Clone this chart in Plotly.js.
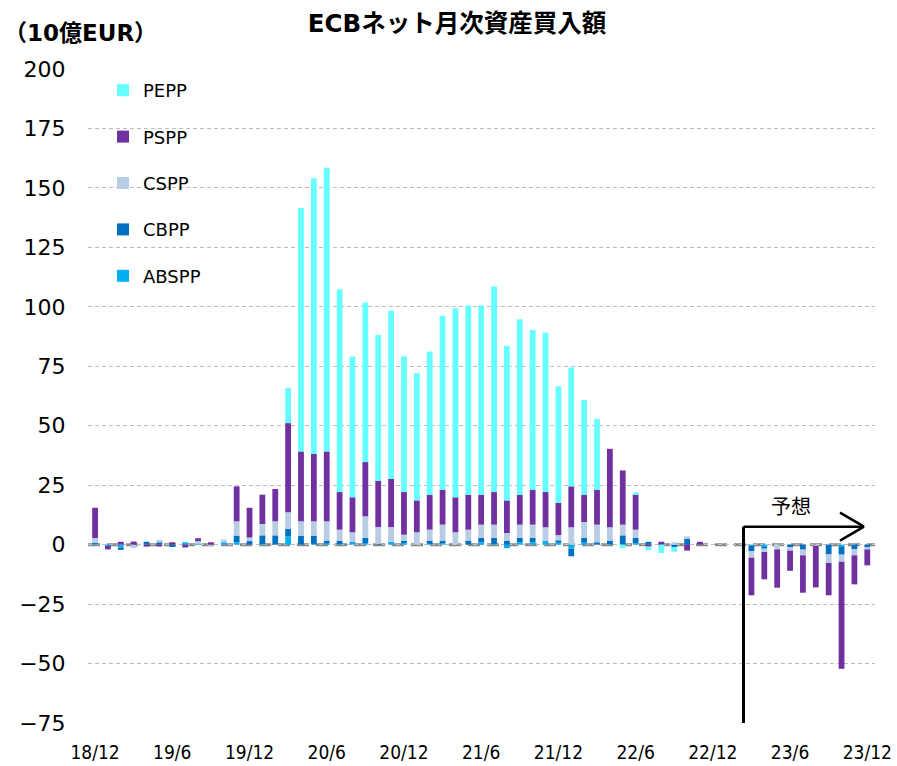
<!DOCTYPE html>
<html>
<head>
<meta charset="utf-8">
<script src="https://cdn.plot.ly/plotly-3.0.1.min.js"></script>
<style>html,body{margin:0;padding:0;background:#fff;}#chart{width:897px;height:766px;}</style>
</head>
<body>
<div id="chart"></div>
<script>
// Months (YY/M)
const months = [
 '18/12',
 '19/1','19/2','19/3','19/4','19/5','19/6','19/7','19/8','19/9','19/10','19/11','19/12',
 '20/1','20/2','20/3','20/4','20/5','20/6','20/7','20/8','20/9','20/10','20/11','20/12',
 '21/1','21/2','21/3','21/4','21/5','21/6','21/7','21/8','21/9','21/10','21/11','21/12',
 '22/1','22/2','22/3','22/4','22/5','22/6','22/7','22/8','22/9','22/10','22/11','22/12',
 '23/1','23/2','23/3','23/4','23/5','23/6','23/7','23/8','23/9','23/10','23/11','23/12'
];
const tickLabels = ['18/12','19/6','19/12','20/6','20/12','21/6','21/12','22/6','22/12','23/6','23/12'];

// Net monthly purchases, EUR bn
const ABSPP = [0.3,
 -0.5,-1.2,0,0,0,0,1.0,0.5,0,1.0,1.0,0,
 0.3,0,3.5,0,0.3,0.5,0.2,0.8,0.6,0,1.2,0.6,
 0,0.3,0.5,0,0,1.0,0.3,-1.5,1.0,1.0,1.2,0.8,
 -1.7,0.8,0,0.2,0,0.7,0,0,0,0,0,0,
 0,0,-0.3,-1.0,0,0,0,0,0,-0.7,0,0];
const CBPP = [0.5,
 0,-1.0,0,1.2,1.0,-1.0,0,0,0,0,2.8,1.5,
 3.6,3.9,3.1,3.8,3.5,1.2,1.5,0.3,2.2,0.3,0,1.1,
 0,1.4,1.2,0,1.7,1.8,2.5,1.7,1.8,1.8,0.3,1.0,
 -3.2,2.0,1.0,1.5,3.9,2.1,1.2,0,-1.0,2.5,0,0,
 0,0,-2.5,-0.7,0,-1.0,-2.1,0,-4.1,-3.5,-2.0,-1.0];
const CSPP = [2.0,
 0,0,-1.5,0,1.0,0,0,1.0,-0.5,1.2,6.0,1.5,
 4.8,5.9,7.0,6.0,6.0,8.1,4.6,4.1,9.1,7.1,6.2,2.5,
 5.2,4.6,6.7,5.2,4.6,5.6,5.6,3.2,5.6,5.6,5.8,2.2,
 7.3,6.7,7.4,5.6,4.5,3.5,0,0,1.0,1.0,0,0,
 0,0,-2.7,-1.4,-2.0,-1.5,-2.4,-0.5,-3.6,-3.0,-2.5,-1.0];
const PSPP = [12.7,
 -1.5,1.2,1.3,-0.8,-0.8,1.0,-1.2,1.2,1.0,0,14.7,12.5,
 12.3,13.6,37.5,29.4,28.3,29.4,15.8,14.7,22.8,19.5,20.3,17.9,
 13.4,14.7,14.7,14.7,14.7,12.6,13.7,13.7,12.6,14.7,14.8,13.6,
 17.2,11.5,14.7,33.0,22.8,14.7,-0.8,1.2,0,-2.5,1.2,0,
 0,0,-15.8,-11.5,-16.1,-8.5,-15.7,-17.5,-13.6,-45.0,-12.2,-6.7];
const PEPP = [0,
 0,0,0,0,0,0,0,0,0,0,0,0,
 0,0,14.7,102.3,116.0,119.3,85.3,59.2,67.1,61.3,70.6,57.0,
 53.5,60.2,73.1,79.5,79.6,79.6,86.4,65.0,73.8,67.2,67.1,49.0,
 50.0,39.9,29.8,0,-1.5,1.0,-1.5,-3.5,-2.0,0,0,0,
 0,0,0,0,0,0,0,0,0,0,0,0];

const seriesNames = ['ABSPP','CBPP','CSPP','PSPP','PEPP'];
const seriesData = [ABSPP, CBPP, CSPP, PSPP, PEPP];
const seriesColors = ['#00B0F0','#0070C0','#B8CCE4','#7030A0','#66FFFF'];

const FONT = '"DejaVu Sans", "Noto Sans CJK JP", sans-serif';

const traces = seriesNames.map((n, k) => ({
  type: 'bar', name: n, x: months, y: seriesData[k],
  marker: {color: seriesColors[k], line: {width: 0}},
  legendgroup: n, legendrank: seriesNames.length - k,
  hoverinfo: 'x+y+name'
}));

// plot area in pixels
const L = 88, R = 875, T = 69, B = 723.5;
const px = v => (v - L) / (R - L);
const py = v => (B - v) / (B - T);

const layout = {
  width: 897, height: 766,
  margin: {l: L, r: 897 - R, t: T, b: 766 - B, pad: 0},
  paper_bgcolor: '#fff', plot_bgcolor: '#fff',
  barmode: 'relative', bargap: 0.55,
  font: {family: FONT, color: '#000'},
  title: {
    text: '<b>ECBネット月次資産買入額</b>',
    font: {family: FONT, size: 24.5, color: '#000'},
    xref: 'container', yref: 'container',
    x: 457 / 897, xanchor: 'center', y: 1 - 23 / 766, yanchor: 'middle'
  },
  xaxis: {
    type: 'category', categoryorder: 'array', categoryarray: months,
    range: [-0.55, 60.6],
    tickmode: 'array', tickvals: tickLabels, ticktext: tickLabels,
    showgrid: false, zeroline: false, showline: false,
    ticks: 'outside', ticklen: 12, tickcolor: 'rgba(0,0,0,0)',
    tickfont: {family: '"DejaVu Sans Condensed", "DejaVu Sans", sans-serif', size: 19, color: '#000'},
    tickangle: 0
  },
  yaxis: {
    range: [-75, 200], tickmode: 'linear', tick0: -75, dtick: 25,
    showgrid: true, gridcolor: '#BDBDBD', gridwidth: 1, griddash: '4px,3px',
    zeroline: false, showline: false,
    ticks: 'outside', ticklen: 17, tickcolor: 'rgba(0,0,0,0)',
    tickfont: {family: FONT, size: 22, color: '#000'}
  },
  showlegend: true,
  legend: {
    x: px(103), xanchor: 'left', y: py(72), yanchor: 'top',
    traceorder: 'grouped', tracegroupgap: 20,
    font: {family: FONT, size: 18, color: '#000'},
    bgcolor: 'rgba(0,0,0,0)', borderwidth: 0, itemclick: false
  },
  shapes: [
    // dashed zero line
    {type: 'line', xref: 'paper', yref: 'y', x0: 0, x1: 1, y0: 0, y1: 0,
     line: {color: '#888888', width: 3, dash: '12px,7px'}, layer: 'below'},
    // forecast marker: vertical line + arrow
    {type: 'line', xref: 'paper', yref: 'paper', x0: px(743.5), x1: px(743.5), y0: py(527), y1: py(723.5),
     line: {color: '#000', width: 3}},
    {type: 'line', xref: 'paper', yref: 'paper', x0: px(743.5), x1: px(864), y0: py(527), y1: py(527),
     line: {color: '#000', width: 2.5}},
    {type: 'line', xref: 'paper', yref: 'paper', x0: px(840), x1: px(864), y0: py(513), y1: py(527),
     line: {color: '#000', width: 2.5}},
    {type: 'line', xref: 'paper', yref: 'paper', x0: px(840), x1: px(864), y0: py(541), y1: py(527),
     line: {color: '#000', width: 2.5}}
  ],
  annotations: [
    {text: '<b>（10億EUR）</b>', xref: 'paper', yref: 'paper', x: px(2), xanchor: 'left',
     y: py(33), yanchor: 'middle', showarrow: false,
     font: {family: FONT, size: 23, color: '#000'}},
    {text: '予想', xref: 'paper', yref: 'paper', x: px(791), xanchor: 'center',
     y: py(507), yanchor: 'middle', showarrow: false,
     font: {family: FONT, size: 20, color: '#000'}}
  ]
};

Plotly.newPlot('chart', traces, layout, {displayModeBar: false, staticPlot: true});
</script>
</body>
</html>
